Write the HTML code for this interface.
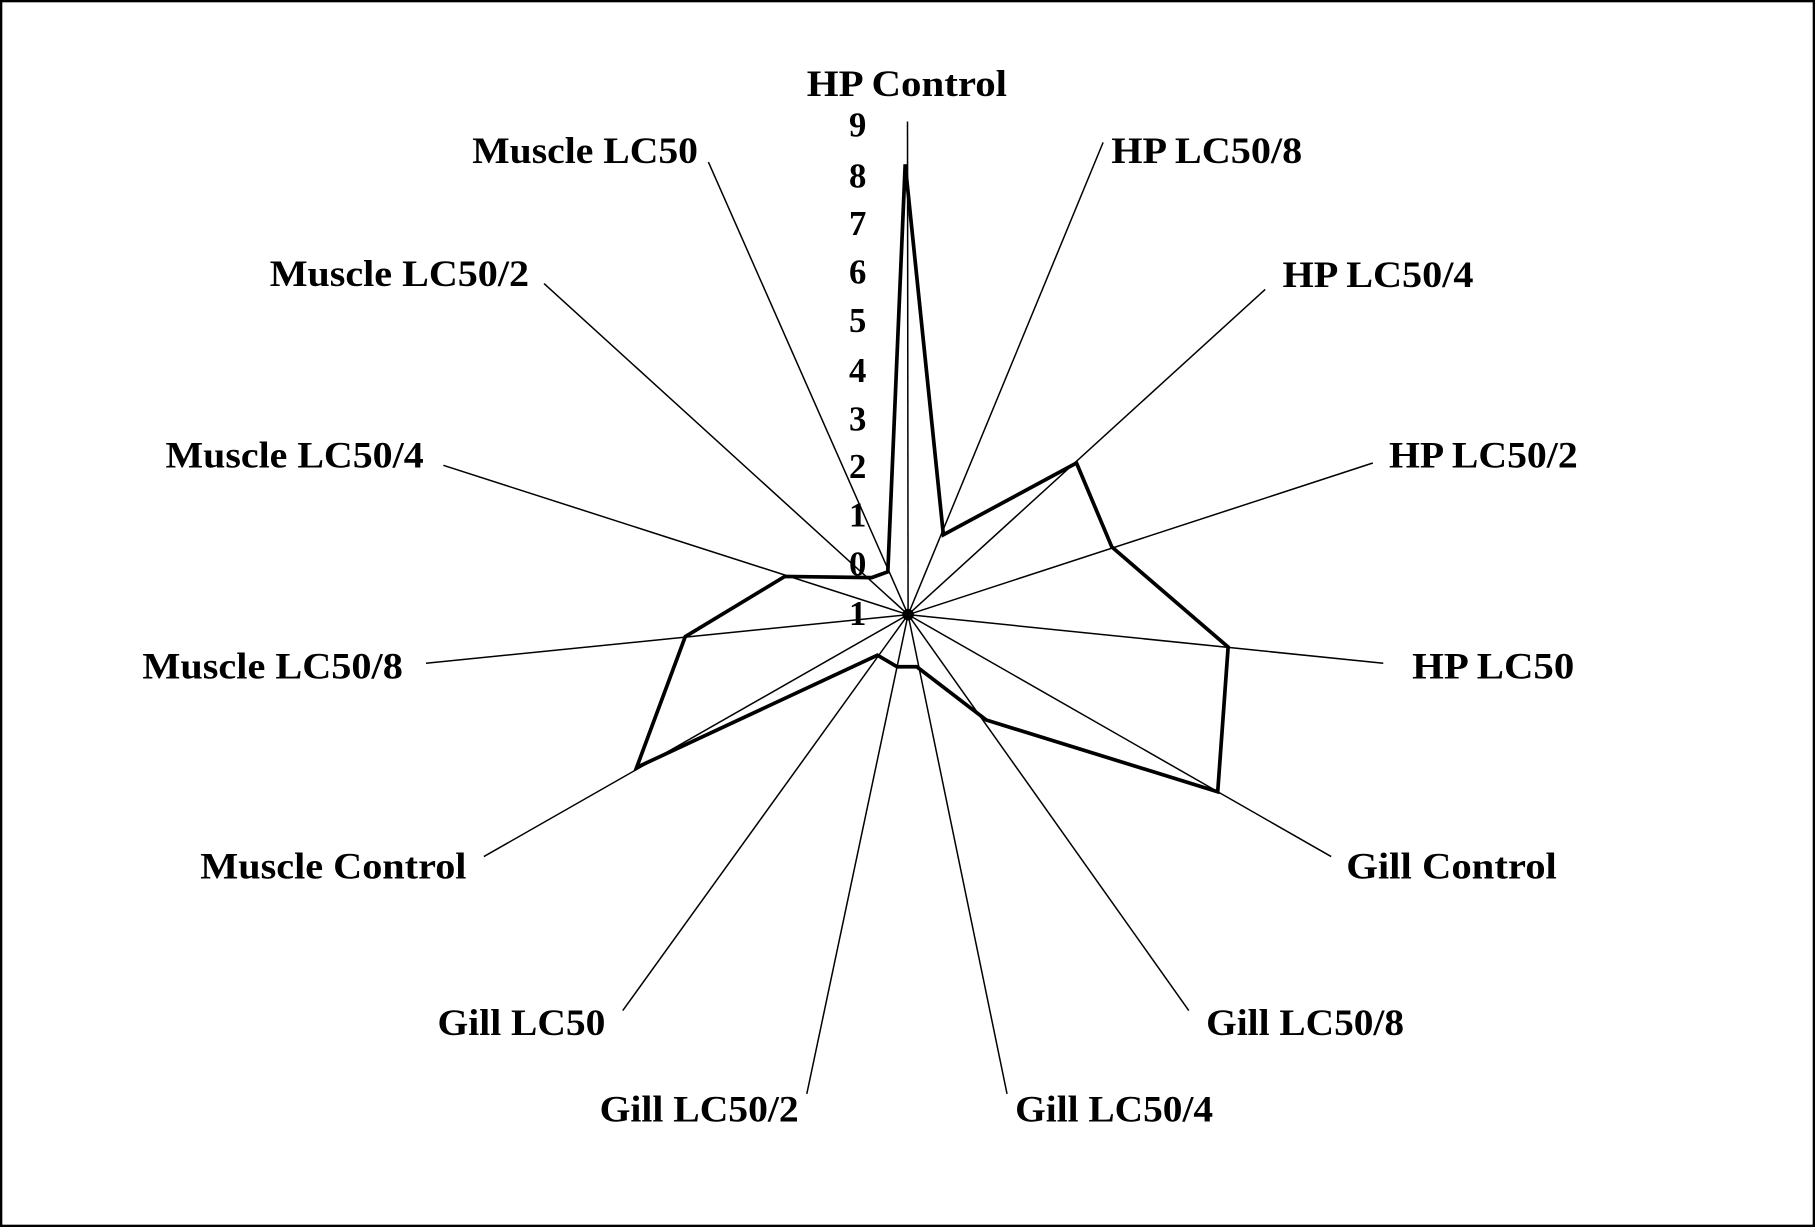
<!DOCTYPE html>
<html><head><meta charset="utf-8"><style>
html,body{margin:0;padding:0;background:#fff;}
svg{display:block;}
text{font-family:"Liberation Serif",serif;font-weight:bold;fill:#000;}
</style></head><body>
<svg width="1815" height="1227" viewBox="0 0 1568 1060" preserveAspectRatio="none" xmlns="http://www.w3.org/2000/svg">
<rect x="1" y="1" width="1566" height="1058" fill="#fff" stroke="#000" stroke-width="2"/>
<g stroke="#000" stroke-width="1.3" fill="none">
<line x1="784.5" y1="531" x2="784" y2="105"/>
<line x1="784.5" y1="531" x2="953" y2="123"/>
<line x1="784.5" y1="531" x2="1093" y2="250"/>
<line x1="784.5" y1="531" x2="1186" y2="400"/>
<line x1="784.5" y1="531" x2="1195" y2="573"/>
<line x1="784.5" y1="531" x2="1150" y2="740"/>
<line x1="784.5" y1="531" x2="1027" y2="873"/>
<line x1="784.5" y1="531" x2="870" y2="945"/>
<line x1="784.5" y1="531" x2="697" y2="945"/>
<line x1="784.5" y1="531" x2="538" y2="873"/>
<line x1="784.5" y1="531" x2="418" y2="740"/>
<line x1="784.5" y1="531" x2="368" y2="573"/>
<line x1="784.5" y1="531" x2="383" y2="402"/>
<line x1="784.5" y1="531" x2="470" y2="245"/>
<line x1="784.5" y1="531" x2="612" y2="140"/>
</g>
<circle cx="784.5" cy="531" r="5" fill="#000"/>
<polygon fill="none" stroke="#000" stroke-width="3.2" stroke-linejoin="miter"
points="782,142 815,462 930,400 960.5,472.5 1061,559 1052,684 852,622 792,576 775,576 758,566 550,663 592,550 678,498 753,499 767,494"/>
<g font-size="30" text-anchor="middle">
<text x="741" y="118">9</text>
<text x="741" y="162">8</text>
<text x="741" y="203">7</text>
<text x="741" y="245">6</text>
<text x="741" y="287">5</text>
<text x="741" y="330">4</text>
<text x="741" y="372">3</text>
<text x="741" y="413">2</text>
<text x="741" y="455">1</text>
<text x="741" y="497">0</text>
<text x="741" y="540">1</text>
</g>
<g font-size="32">
<text x="697" y="83" textLength="173" lengthAdjust="spacingAndGlyphs">HP Control</text>
<text x="960" y="141" textLength="165" lengthAdjust="spacingAndGlyphs">HP LC50/8</text>
<text x="1108" y="248" textLength="165" lengthAdjust="spacingAndGlyphs">HP LC50/4</text>
<text x="1200" y="404" textLength="163" lengthAdjust="spacingAndGlyphs">HP LC50/2</text>
<text x="1220" y="586" textLength="140" lengthAdjust="spacingAndGlyphs">HP LC50</text>
<text x="1163" y="759" textLength="182" lengthAdjust="spacingAndGlyphs">Gill Control</text>
<text x="1042" y="894" textLength="171" lengthAdjust="spacingAndGlyphs">Gill LC50/8</text>
<text x="877" y="969" textLength="171" lengthAdjust="spacingAndGlyphs">Gill LC50/4</text>
<text x="518" y="969" textLength="172" lengthAdjust="spacingAndGlyphs">Gill LC50/2</text>
<text x="378" y="894" textLength="145" lengthAdjust="spacingAndGlyphs">Gill LC50</text>
<text x="173" y="759" textLength="230" lengthAdjust="spacingAndGlyphs">Muscle Control</text>
<text x="123" y="586" textLength="225" lengthAdjust="spacingAndGlyphs">Muscle LC50/8</text>
<text x="143" y="404" textLength="223" lengthAdjust="spacingAndGlyphs">Muscle LC50/4</text>
<text x="233" y="247" textLength="224" lengthAdjust="spacingAndGlyphs">Muscle LC50/2</text>
<text x="408" y="141" textLength="195" lengthAdjust="spacingAndGlyphs">Muscle LC50</text>
</g>
</svg>
</body></html>
